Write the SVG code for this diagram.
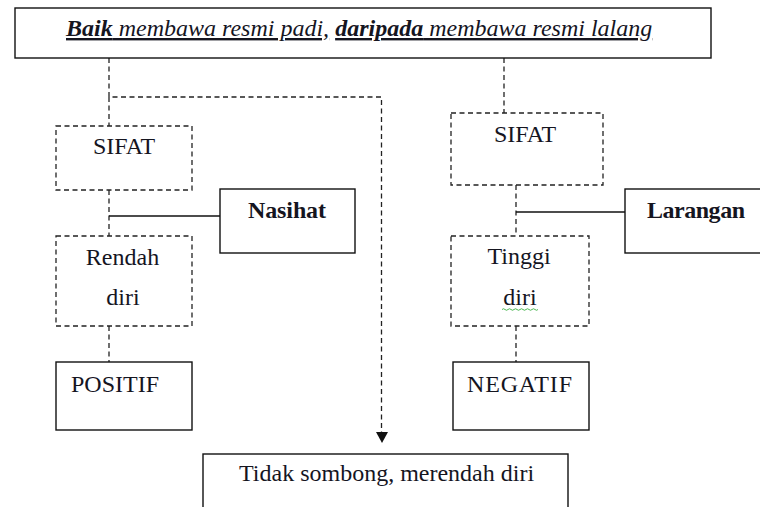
<svg xmlns="http://www.w3.org/2000/svg" width="760" height="507" viewBox="0 0 760 507">
  <defs>
    <style>
      .box { fill: #ffffff; stroke: #111111; stroke-width: 1.4; }
      .dbox { fill: #ffffff; stroke: #222222; stroke-width: 1.3; stroke-dasharray: 5 3.5; }
      .dash { fill: none; stroke: #222222; stroke-width: 1.3; stroke-dasharray: 5 3.5; }
      .solid { fill: none; stroke: #111111; stroke-width: 1.4; }
      text { font-family: 'Liberation Serif', 'DejaVu Serif', 'Times New Roman', serif; font-size: 24px; fill: #15151f; }
      .b { font-weight: bold; }
      .u { text-decoration: underline; }
    </style>
  </defs>
  <rect width="760" height="507" fill="#ffffff"/>

  <g id="connectors">
    <path class="dash" d="M109,58 V97 H381.5 V432"/>
    <polygon points="376,432 388,432 382,443" fill="#111111"/>
    <path class="dash" d="M109,97 V126"/>
    <path class="dash" d="M504,58 V113"/>
    <path class="dash" d="M109,190 V236"/>
    <path class="solid" d="M109,216 H220"/>
    <path class="dash" d="M109,326 V362"/>
    <path class="dash" d="M516,185 V236"/>
    <path class="solid" d="M516,212 H625"/>
    <path class="dash" d="M516,326 V362"/>
  </g>

  <g id="title">
    <rect class="box" x="15" y="8" width="696" height="50"/>
    <text x="66" y="36" font-style="italic" font-family="Liberation Serif, DejaVu Serif, serif"><tspan class="u"><tspan class="b">Baik</tspan> membawa resmi padi,</tspan> <tspan class="u"><tspan class="b">daripada</tspan> membawa resmi lalang</tspan></text>
  </g>

  <g id="sifat-left">
    <rect class="dbox" x="56" y="126" width="136" height="64"/>
    <text x="124" y="154" text-anchor="middle">SIFAT</text>
  </g>

  <g id="nasihat">
    <rect class="box" x="220" y="189" width="135" height="64"/>
    <text class="b" x="287" y="218" text-anchor="middle" textLength="78" lengthAdjust="spacing">Nasihat</text>
  </g>

  <g id="rendah-diri">
    <rect class="dbox" x="56" y="236" width="136" height="90"/>
    <text x="122.5" y="265" text-anchor="middle">Rendah</text>
    <text x="123" y="305" text-anchor="middle">diri</text>
  </g>

  <g id="positif">
    <rect class="box" x="56" y="362" width="136" height="68"/>
    <text x="71" y="392">POSITIF</text>
  </g>

  <g id="sifat-right">
    <rect class="dbox" x="451" y="113" width="152" height="72"/>
    <text x="525" y="142" text-anchor="middle">SIFAT</text>
  </g>

  <g id="larangan">
    <rect class="box" x="625" y="189" width="145" height="64"/>
    <text class="b" x="647" y="218" textLength="98" lengthAdjust="spacing">Larangan</text>
  </g>

  <g id="tinggi-diri">
    <rect class="dbox" x="451" y="236" width="138" height="90"/>
    <text x="519" y="264" text-anchor="middle">Tinggi</text>
    <text x="520" y="305" text-anchor="middle">diri</text>
    <path d="M502,309.5 q1.5,-1.5 3,0 t3,0 t3,0 t3,0 t3,0 t3,0 t3,0 t3,0 t3,0 t3,0 t3,0 t3,0" fill="none" stroke="#3cb043" stroke-width="0.9"/>
  </g>

  <g id="negatif">
    <rect class="box" x="453" y="362" width="136" height="68"/>
    <text x="467" y="392" textLength="105" lengthAdjust="spacing">NEGATIF</text>
  </g>

  <g id="tidak-sombong">
    <rect class="box" x="203" y="454" width="365" height="70"/>
    <text x="239" y="481">Tidak sombong, merendah diri</text>
  </g>
</svg>
